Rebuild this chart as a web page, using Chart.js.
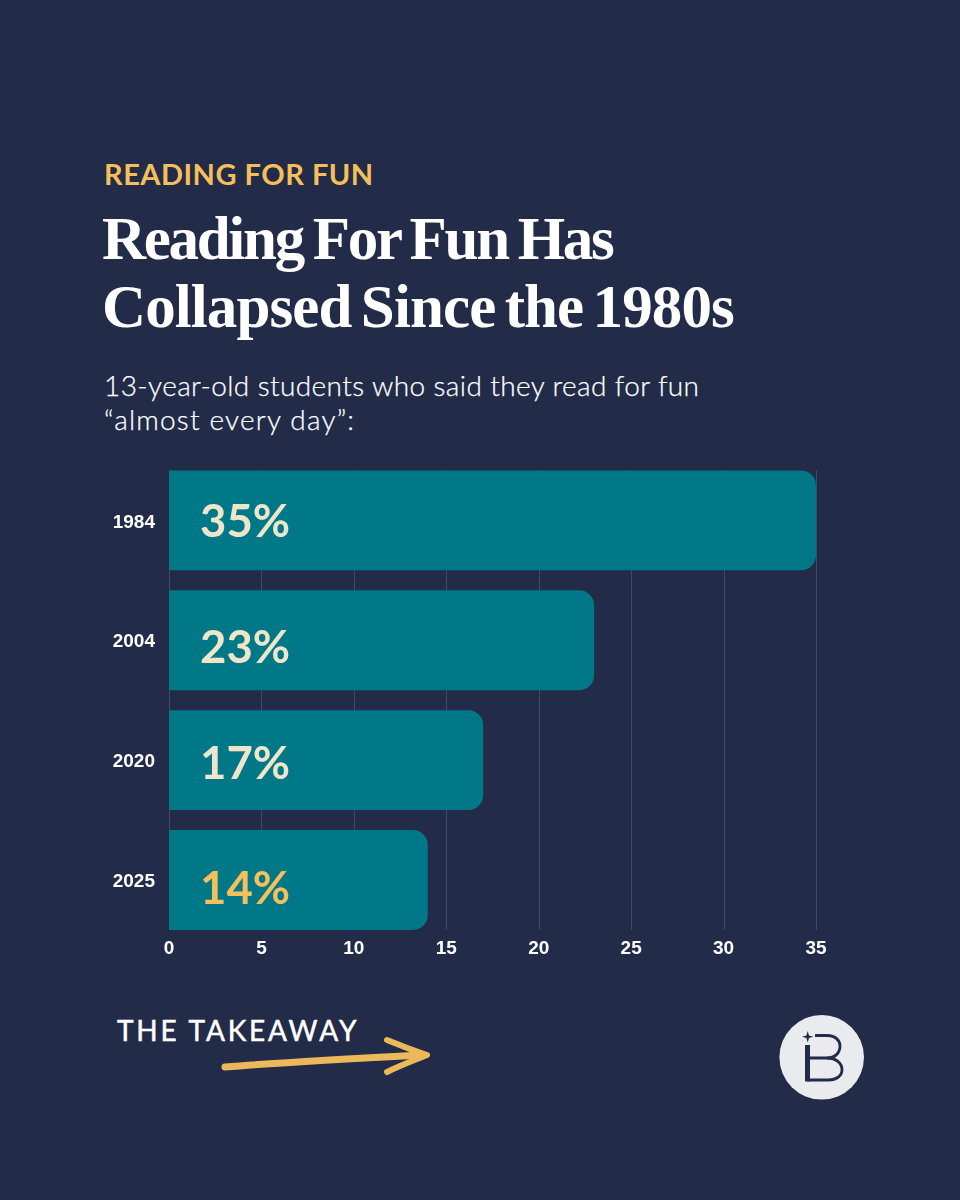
<!DOCTYPE html>
<html>
<head>
<meta charset="utf-8">
<script src="https://cdn.jsdelivr.net/npm/chart.js@4"></script>
<style>
  html, body { margin: 0; padding: 0; background: #222b48; }
  #page { position: relative; width: 960px; height: 1200px; overflow: hidden; background: #222b48; }
  #page div.txt { position: absolute; white-space: nowrap; }
  #kicker { left: 104px; top: 156px; font: 700 29px/36px Lato, sans-serif; color: #f5bf5c; letter-spacing: 0.5px; }
  #title { left: 102px; top: 205px; font: 700 61px/68px "Liberation Serif", serif; color: #fff; }
  #title .l1 { letter-spacing: -2.3px; word-spacing: -3px; }
  #title .l2 { letter-spacing: -0.9px; word-spacing: -5px; }
  #sub { left: 104px; top: 369px; font: 300 28px/33.5px Lato, sans-serif; color: #fff; letter-spacing: 0.4px; -webkit-text-stroke: 0.25px #fff; }
  #sub .l2 { letter-spacing: 1.2px; }
  #takeaway { left: 117px; top: 1012px; font: 400 28px/36px Lato, sans-serif; color: #fff; letter-spacing: 2.8px; -webkit-text-stroke: 0.5px #fff; }
  #wrap { position: absolute; left: 0; top: 435px; width: 960px; height: 545px; }
  svg { position: absolute; }
</style>
</head>
<body>
<div id="page">
  <div class="txt" id="kicker">READING FOR FUN</div>
  <div class="txt" id="title"><span class="l1">Reading For Fun Has</span><br><span class="l2">Collapsed Since the 1980s</span></div>
  <div class="txt" id="sub">13-year-old students who said they read for fun<br><span class="l2">“almost every day”:</span></div>
  <div id="wrap"><canvas id="chartBars"></canvas></div>
  <div class="txt" id="takeaway">THE TAKEAWAY</div>
  <svg style="left:215px;top:1030px" width="225" height="50" viewBox="0 0 225 50">
    <path d="M10 37 C60 33 130 29 205 25" fill="none" stroke="#ecb95a" stroke-width="7" stroke-linecap="round"/>
    <path d="M172 10 C184 15 200 21 212 25 C200 30 184 36 172 42" fill="none" stroke="#ecb95a" stroke-width="6" stroke-linecap="round" stroke-linejoin="round"/>
  </svg>
  <svg style="left:779px;top:1015px" width="86" height="86" viewBox="0 0 86 86">
    <circle cx="42.7" cy="42.3" r="42.3" fill="#e9ebef"/>
    <g fill="none" stroke="#222b48" stroke-width="2.8">
      <path d="M36 20.5 H48 C57 20.5 61 26 61 31 C61 38 56 43 48 43 H31"/>
      <path d="M48 43 C57 43 63 48 63 55 C63 61 57 65 50 65 H28"/>
    </g>
    <rect x="26" y="30" width="5" height="36.4" fill="#222b48"/>
    <path d="M28.7 16 L30 20.4 L34.4 21.7 L30 23 L28.7 27.4 L27.4 23 L23 21.7 L27.4 20.4 Z" fill="#222b48"/>
  </svg>
</div>
<script>
const years = ['1984', '2004', '2020', '2025'];
const shares = [35, 23, 17, 14];
const xTicks = [0, 5, 10, 15, 20, 25, 30, 35];

// gridlines stop at the bar edges, not the full plot height
const shortGrid = {
  id: 'shortGrid',
  beforeDatasetsDraw(chart) {
    const { ctx, scales, chartArea } = chart;
    ctx.save();
    ctx.strokeStyle = 'rgba(255,255,255,0.15)';
    ctx.lineWidth = 1;
    xTicks.forEach(t => {
      const x = Math.round(scales.x.getPixelForValue(t)) + 0.5;
      ctx.beginPath();
      ctx.moveTo(x, chartArea.top + 10);
      ctx.lineTo(x, chartArea.bottom - 10);
      ctx.stroke();
    });
    ctx.restore();
  }
};

const pctLabels = {
  id: 'pctLabels',
  afterDatasetsDraw(chart) {
    const { ctx } = chart;
    const nudge = [2, 8, 4, 9];
    ctx.save();
    ctx.font = '700 45.5px Lato, sans-serif';
    ctx.textBaseline = 'middle';
    ctx.textAlign = 'left';
    chart.getDatasetMeta(0).data.forEach((bar, i) => {
      ctx.fillStyle = i === 3 ? '#f5bf5c' : '#efe6c9';
      ctx.fillText(shares[i] + '%', 200, bar.y + nudge[i]);
    });
    ctx.restore();
  }
};

new Chart(document.getElementById('chartBars').getContext('2d'), {
  type: 'bar',
  data: {
    labels: years,
    datasets: [{
      data: shares,
      backgroundColor: '#007888',
      borderRadius: { topLeft: 0, bottomLeft: 0, topRight: 15, bottomRight: 15 },
      borderSkipped: false,
      categoryPercentage: 100 / 120,
      barPercentage: 1
    }]
  },
  options: {
    indexAxis: 'y',
    responsive: true,
    maintainAspectRatio: false,
    animation: false,
    layout: { padding: { left: 100, right: 144, top: 0, bottom: 0 } },
    plugins: { legend: { display: false }, tooltip: { enabled: false } },
    scales: {
      x: {
        min: 0,
        max: 35,
        afterBuildTicks(scale) { scale.ticks = xTicks.map(v => ({ value: v })); },
        afterFit(scale) { scale.height = 40; },
        grid: { display: false, drawTicks: false },
        border: { display: false },
        ticks: { color: '#fff', padding: -3, maxRotation: 0, font: { family: 'Liberation Sans', weight: 'bold', size: 19 } }
      },
      y: {
        afterFit(scale) { scale.width = 69; },
        grid: { display: false, drawTicks: false },
        border: { display: false },
        ticks: { color: '#fff', padding: 14, labelOffset: 2, font: { family: 'Liberation Sans', weight: 'bold', size: 19 } }
      }
    }
  },
  plugins: [shortGrid, pctLabels]
});
</script>
</body>
</html>
